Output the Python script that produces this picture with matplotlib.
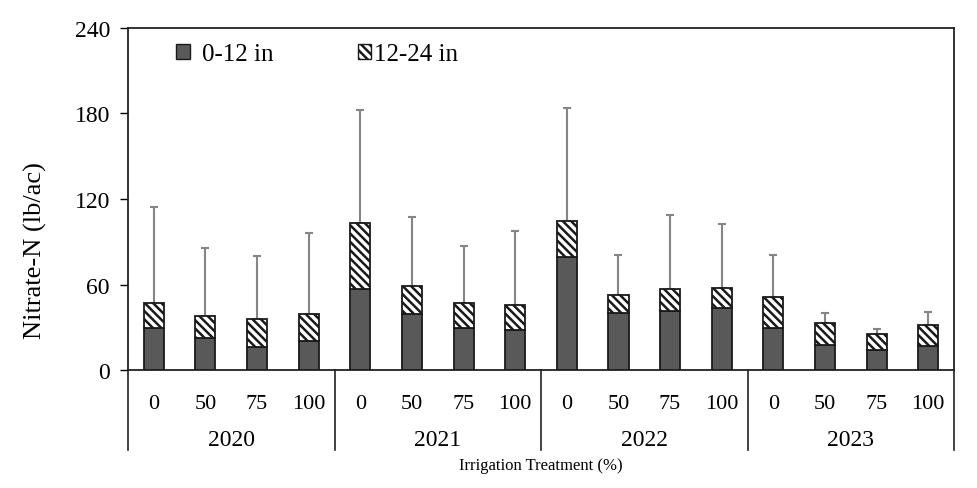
import matplotlib
matplotlib.use("Agg")
import matplotlib.pyplot as plt
from matplotlib.patches import Patch
import numpy as np

# values (lb/ac)
years = ["2020", "2021", "2022", "2023"]
treatments = ["0", "50", "75", "100"]
shallow = [29.5, 22.7, 15.9, 20.6,
           56.8, 39.3, 29.5, 28.1,
           79.3, 40.0, 41.6, 43.5,
           29.5, 17.8, 14.3, 16.8]
total = [47.2, 38.1, 36.0, 39.5,
         103.2, 59.2, 46.8, 45.4,
         104.3, 52.9, 56.8, 57.3,
         51.0, 32.7, 25.0, 31.3]
err_top = [114.6, 85.6, 80.2, 95.9,
           182.5, 107.4, 87.0, 97.3,
           183.6, 80.7, 108.8, 102.5,
           80.9, 40.0, 28.8, 40.9]

deep = [t - s for t, s in zip(total, shallow)]
sd = [e - t for e, t in zip(err_top, total)]

plt.rcParams['font.family'] = ['Liberation Serif', 'DejaVu Serif']
plt.rcParams['hatch.linewidth'] = 1.8
plt.rcParams['hatch.color'] = '#222222'

fig = plt.figure(figsize=(9.77, 4.89), dpi=100)
ax = fig.add_axes([0.131, 0.2413, 0.8455, 0.6994])

x = np.arange(len(shallow))
w = 0.39
ax.bar(x, shallow, w, color='#595959', edgecolor='#1a1a1a', linewidth=1.3,
       zorder=3)
ax.bar(x, deep, w, bottom=shallow, color='white', edgecolor='#1a1a1a',
       linewidth=1.3, hatch='\\\\\\\\', zorder=3)
ax.errorbar(x, total, yerr=[np.zeros(len(sd)), sd], fmt='none',
            ecolor='#858585', elinewidth=1.5, capsize=3, capthick=1.5, zorder=2)

ax.set_ylim(0, 240)
ax.set_yticks([0, 60, 120, 180, 240])
ax.set_xlim(-0.5, len(shallow) - 0.5)
ax.set_xticks(x)
ax.set_xticklabels(treatments * len(years))
ax.tick_params(axis='y', labelsize=17, direction='out', length=6, width=1, pad=7)
ax.tick_params(axis='x', labelsize=16, length=0, pad=17)
ax.set_ylabel('Nitrate-N (lb/ac)', fontsize=19)
ax.yaxis.set_label_coords(-0.098, 0.351)

for s in ax.spines.values():
    s.set_linewidth(1.3)
    s.set_color('#222222')

# group separators and year labels below the axis
trans = ax.get_xaxis_transform()
for b in np.arange(-0.5, len(shallow), 4):
    ax.plot([b, b], [0, -0.234], transform=trans, color='#222222',
            linewidth=1.2, clip_on=False)
for i, yr in enumerate(years):
    ax.text(4 * i + 1.5, -0.202, yr, transform=trans, ha='center',
            va='center', fontsize=17)
ax.text(7.5, -0.278, 'Irrigation Treatment (%)', transform=trans,
        ha='center', va='center', fontsize=12)

# two separate legend entries, as in the reference
h1 = Patch(facecolor='#595959', edgecolor='#1a1a1a', linewidth=1.0)
h2 = Patch(facecolor='white', edgecolor='#1a1a1a', linewidth=1.0, hatch='\\\\\\\\')
leg1 = ax.legend([h1], ['0-12 in'], loc='center left', frameon=False,
                 fontsize=18, handlelength=0.55, handleheight=0.55,
                 handletextpad=0.5, borderaxespad=0, borderpad=0,
                 bbox_to_anchor=(0.058, 0.923))
ax.add_artist(leg1)
ax.legend([h2], ['12-24 in'], loc='center left', frameon=False,
          fontsize=18, handlelength=0.55, handleheight=0.55,
          handletextpad=0.1, borderaxespad=0, borderpad=0,
          bbox_to_anchor=(0.278, 0.923))

fig.savefig('out.png', dpi=100)
